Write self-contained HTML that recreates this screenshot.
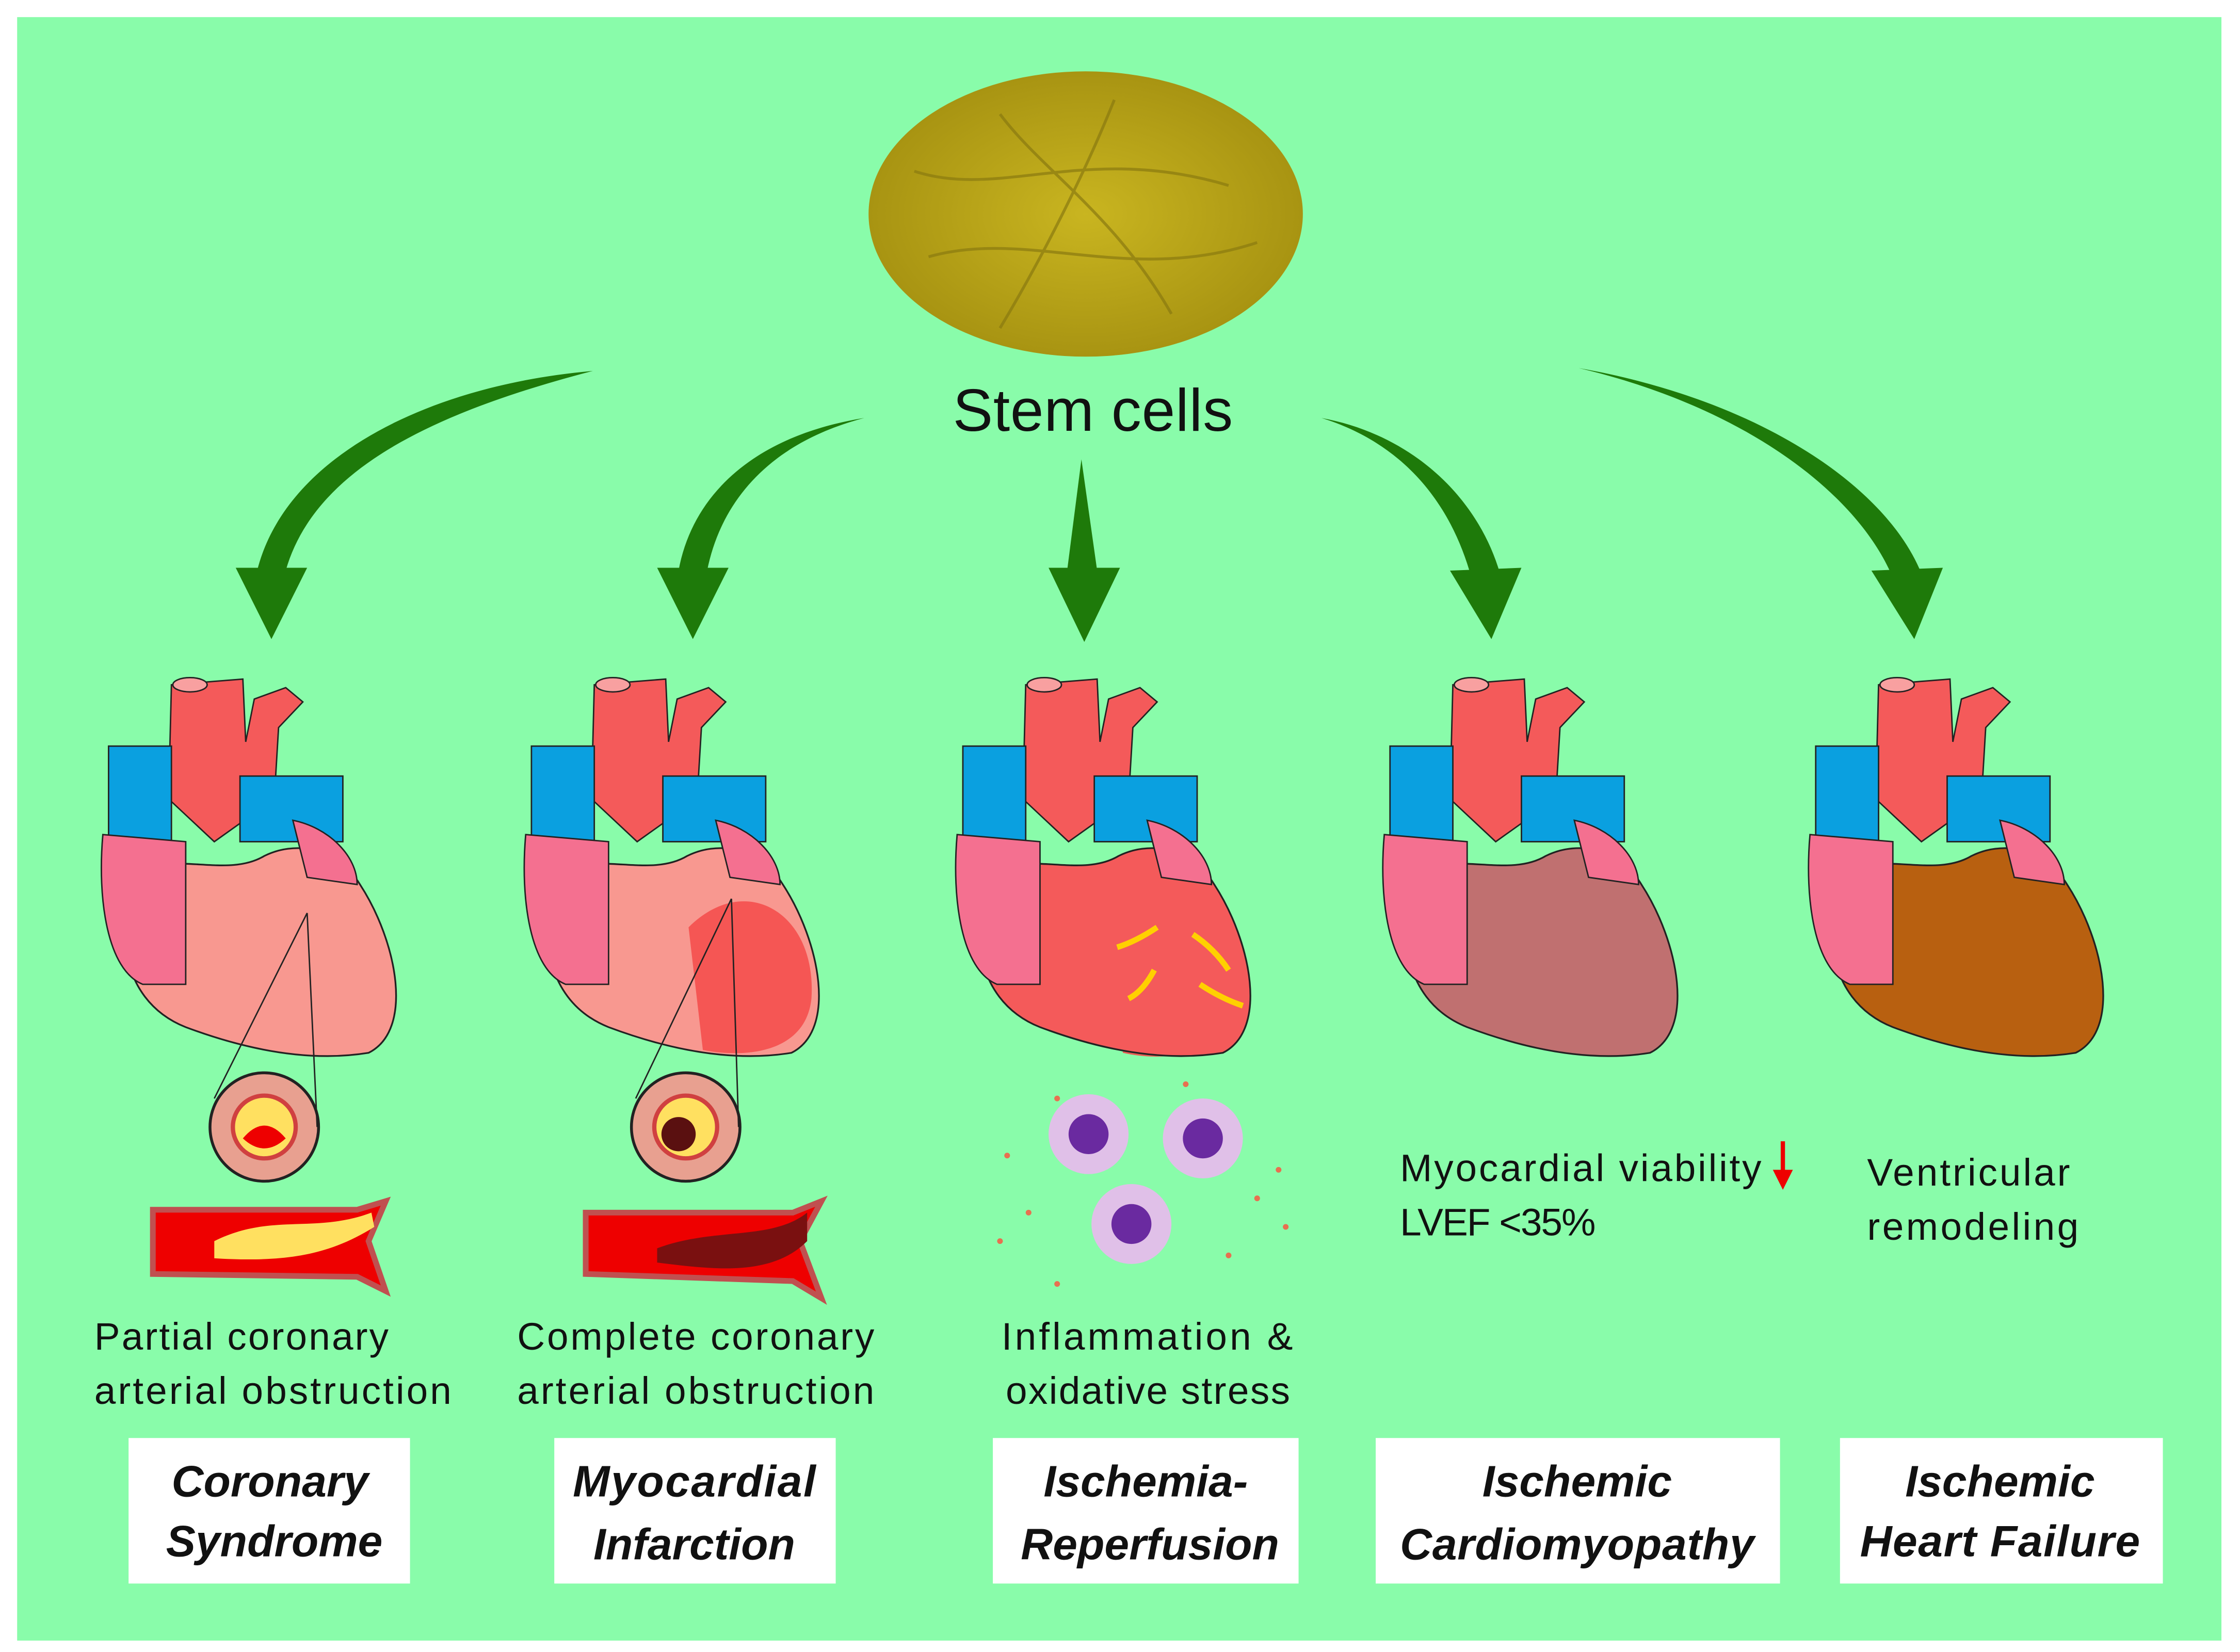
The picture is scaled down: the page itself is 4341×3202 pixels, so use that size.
<!DOCTYPE html>
<html><head><meta charset="utf-8"><style>
html,body{margin:0;padding:0;background:#fff}
svg{display:block}
text{font-family:"Liberation Sans","DejaVu Sans",sans-serif}
</style></head><body>
<svg width="4341" height="3202" viewBox="0 0 1568 1158" preserveAspectRatio="none" xmlns="http://www.w3.org/2000/svg">
<defs>
<radialGradient id="sg" cx="50%" cy="50%" r="50%">
<stop offset="0" stop-color="#c9b520"/><stop offset="1" stop-color="#a89412"/>
</radialGradient>
<g id="heart">
<path d="M120 480 L170 476 L172 520 L178 490 L200 482 L212 492 L195 510 L192 560 L150 590 L118 560 Z" fill="#f45a5a" stroke="#222" stroke-width="1"/>
<ellipse cx="133" cy="480" rx="12" ry="5" fill="#f8a0a0" stroke="#222"/>
<rect x="76" y="523" width="44" height="68" fill="#0aa0e0" stroke="#222"/>
<rect x="168" y="544" width="72" height="46" fill="#0aa0e0" stroke="#222"/>
<path d="M72 585 C68 630 75 680 100 690 L130 690 L130 590 Z" fill="#f47090" stroke="#222"/>
<path d="M205 575 C230 580 250 600 250 620 L215 615 Z" fill="#f47090" stroke="#222"/>
</g>
<path id="body" d="M100 610 C80 640 80 700 130 720 C170 735 215 745 258 738 C290 722 278 660 252 620 C235 592 205 590 185 600 C160 615 125 598 100 610 Z" stroke="#222" stroke-width="1.2"/>
</defs>
<rect width="1568" height="1158" fill="#fff"/>
<rect x="12" y="12" width="1543" height="1138" fill="#89fcaa"/>

<ellipse cx="760" cy="150" rx="152" ry="100" fill="url(#sg)"/>
<g stroke="#8a7a10" stroke-width="2" fill="none" opacity="0.7">
<path d="M640 120 C700 140 760 100 860 130"/><path d="M650 180 C720 160 790 200 880 170"/><path d="M700 80 C730 120 780 150 820 220"/><path d="M780 70 C760 120 730 180 700 230"/>
</g>
<text x="765" y="302" font-size="42" text-anchor="middle" fill="#111" textLength="196">Stem cells</text>

<g fill="#1e7a0a">
<path d="M415 260 C300 290 220 330 200 400 L180 400 C200 320 300 270 415 260 Z"/>
<path d="M165 398 L215 398 L190 448 Z"/>
<path d="M605 293 C540 310 505 350 495 400 L475 400 C485 345 530 305 605 293 Z"/>
<path d="M460 398 L510 398 L485 448 Z"/>
<path d="M757 322 L768 400 L747 400 Z"/>
<path d="M734 398 L784 398 L759 450 Z"/>
<path d="M925 293 C990 305 1035 350 1050 402 L1030 405 C1015 350 980 310 925 293 Z"/>
<path d="M1015 400 L1065 398 L1044 448 Z"/>
<path d="M1105 258 C1230 280 1320 340 1345 402 L1325 405 C1300 345 1220 285 1105 258 Z"/>
<path d="M1310 400 L1360 398 L1340 448 Z"/>
</g>

<g><use href="#body" fill="#f89890"/><use href="#heart"/></g>
<g transform="translate(296,0)"><use href="#body" fill="#f89890"/><use href="#heart"/></g>
<path d="M776 650 C816 600 871 640 866 700 C861 740 816 745 786 738 Z" fill="#f44a4a" opacity="0.9"/>
<g transform="translate(598,0)"><use href="#body" fill="#f45a5a"/><use href="#heart"/></g>
<g transform="translate(897,0)"><use href="#body" fill="#c07070"/><use href="#heart"/></g>
<g transform="translate(1195,0)"><use href="#body" fill="#b86010"/><use href="#heart"/></g>
<path d="M482 650 C522 610 572 640 568 700 C564 738 522 742 492 736 Z" fill="#f44a4a" opacity="0.85"/>
<g stroke="#ffd000" stroke-width="4" fill="none"><path d="M810 650 Q795 660 782 664"/><path d="M835 655 Q850 665 860 680"/><path d="M808 680 Q800 695 790 700"/><path d="M840 690 Q855 700 870 705"/></g>

<circle cx="185" cy="790" r="38" fill="#e8a090" stroke="#222" stroke-width="2"/><circle cx="185" cy="790" r="22" fill="#ffe060" stroke="#d04040" stroke-width="3"/><path d="M170 798 Q185 780 200 798 Q185 812 170 798Z" fill="#e00"/>
<circle cx="480" cy="790" r="38" fill="#e8a090" stroke="#222" stroke-width="2"/><circle cx="480" cy="790" r="22" fill="#ffe060" stroke="#d04040" stroke-width="3"/><circle cx="475" cy="795" r="12" fill="#5a1010"/>
<line x1="150" y1="770" x2="215" y2="640" stroke="#222"/><line x1="222" y1="790" x2="215" y2="640" stroke="#222"/>
<line x1="445" y1="770" x2="512" y2="630" stroke="#222"/><line x1="517" y1="790" x2="512" y2="630" stroke="#222"/>

<path d="M107 848 L250 848 L270 842 L258 870 L270 905 L250 895 L107 893 Z" fill="#e00" stroke="#c05050" stroke-width="4"/>
<path d="M150 870 C190 850 220 865 260 850 L262 860 C230 880 200 885 150 882 Z" fill="#ffe060"/>
<path d="M410 850 L555 850 L575 842 L560 870 L575 910 L555 898 L410 893 Z" fill="#e00" stroke="#c05050" stroke-width="4"/>
<path d="M460 875 C500 860 540 870 565 850 L565 870 C540 895 500 890 460 885 Z" fill="#7a1010"/>

<g><circle cx="762" cy="795" r="28" fill="#e0c0e8"/><circle cx="762" cy="795" r="14" fill="#6a2aa0"/>
<circle cx="842" cy="798" r="28" fill="#e0c0e8"/><circle cx="842" cy="798" r="14" fill="#6a2aa0"/>
<circle cx="792" cy="858" r="28" fill="#e0c0e8"/><circle cx="792" cy="858" r="14" fill="#6a2aa0"/></g>
<g fill="#e87050"><circle cx="705" cy="810" r="2"/><circle cx="720" cy="850" r="2"/><circle cx="700" cy="870" r="2"/><circle cx="880" cy="840" r="2"/><circle cx="895" cy="820" r="2"/><circle cx="860" cy="880" r="2"/><circle cx="740" cy="900" r="2"/><circle cx="830" cy="760" r="2"/><circle cx="740" cy="770" r="2"/><circle cx="900" cy="860" r="2"/></g>

<g font-size="27" fill="#111">
<text x="66" y="946" textLength="206">Partial coronary</text><text x="66" y="984" textLength="250">arterial obstruction</text>
<text x="362" y="946" textLength="250">Complete coronary</text><text x="362" y="984" textLength="250">arterial obstruction</text>
<text x="701" y="946" textLength="204">Inflammation &amp;</text><text x="704" y="984" textLength="199">oxidative stress</text>
<text x="980" y="828" textLength="253">Myocardial viability</text><text x="980" y="866" textLength="137">LVEF &lt;35%</text>
<text x="1307" y="831" textLength="142">Ventricular</text><text x="1307" y="869" textLength="148">remodeling</text>
</g>
<path d="M1248 800 L1248 825" stroke="#e00" stroke-width="3"/><path d="M1241 820 L1255 820 L1248 834 Z" fill="#e00"/>

<g fill="#fff"><rect x="90" y="1008" width="197" height="102"/><rect x="388" y="1008" width="197" height="102"/><rect x="695" y="1008" width="214" height="102"/><rect x="963" y="1008" width="283" height="102"/><rect x="1288" y="1008" width="226" height="102"/></g>
<g font-size="31" font-weight="bold" font-style="italic" fill="#111" text-anchor="middle">
<text x="189" y="1049">Coronary</text><text x="192" y="1091">Syndrome</text>
<text x="486" y="1049" textLength="170">Myocardial</text><text x="486" y="1093">Infarction</text>
<text x="802" y="1049">Ischemia-</text><text x="805" y="1093">Reperfusion</text>
<text x="1104" y="1049">Ischemic</text><text x="1104" y="1093" textLength="248">Cardiomyopathy</text>
<text x="1400" y="1049">Ischemic</text><text x="1400" y="1091" textLength="196">Heart Failure</text>
</g>
</svg>
</body></html>
